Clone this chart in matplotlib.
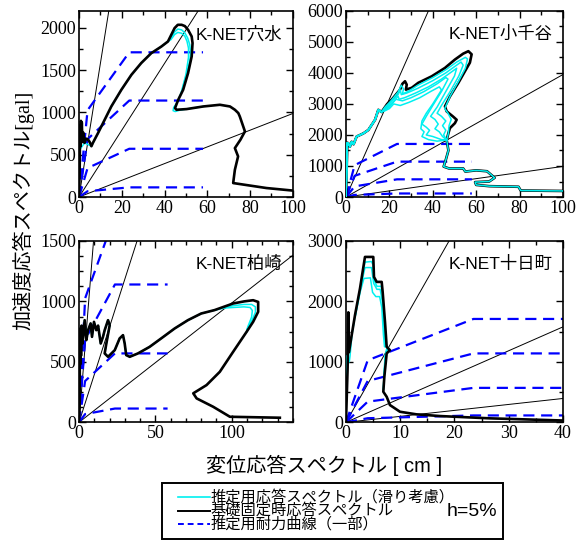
import numpy as np
import matplotlib
matplotlib.use('Agg')
import matplotlib.pyplot as plt
from matplotlib.lines import Line2D
from matplotlib.patches import Rectangle
from matplotlib.ticker import MultipleLocator

SERIF_JP = ['Liberation Serif', 'Noto Sans CJK JP']
SANS_JP = ['Liberation Sans', 'Noto Sans CJK JP']
plt.rcParams['font.family'] = SERIF_JP

# natural periods of the thin reference lines [s]
periods = [0.5, 1.0, 2.0]

# capacity curves (blue dashed), displacement [cm] / acceleration [gal]
cap_d = [0, 4.0, 23.5, 58]
cap_a = [[0, 68, 114, 114],
         [0, 342, 570, 570],
         [0, 684, 1140, 1140],
         [0, 1026, 1710, 1710]]

# ---- K-NET穴水
anamizu_bk_d = [0, 0.3, 0.5, 0.7, 0.9, 1.1, 1.3, 1.6, 2.0, 2.6, 3.3, 4.2, 5.0, 5.8, 6.5, 8.9, 12.0, 15.1, 19.8,
                24.5, 29.1, 33.8, 38.5, 41.6, 44.7, 46.2, 48.0, 49.5, 51.0, 52.7, 53.1, 52.7, 51.0, 48.7, 46.4,
                44.9, 45.6, 50.3, 58.1, 65.9, 70.6, 72.9, 74.5, 75.2, 76.8, 77.6, 75.5, 72.9, 74.4, 72.9, 72.1,
                87.7, 100]
anamizu_bk_a = [0, 300, 850, 600, 900, 700, 880, 650, 760, 640, 690, 680, 650, 600, 640, 756, 913, 1070, 1267,
                1444, 1583, 1700, 1778, 1838, 1996, 2035, 2035, 2020, 1976, 1897, 1819, 1661, 1464, 1267, 1149,
                1051, 1031, 1039, 1070, 1090, 1070, 1031, 992, 952, 834, 775, 677, 578, 480, 322, 165,
                106, 76]
anamizu_cy = [
    ([0, 0.1, 0.4, 2.6, 5.8, 8.9, 12.0, 15.1, 19.8, 24.5, 29.1, 33.8, 38.5, 41.6, 43.0, 44.7, 46.2, 48.0, 49.5,
      50.8, 51.8, 52.2, 51.8, 50.3, 48.0, 46.0, 44.3, 44.0, 45.0, 47.0, 50.3, 58.1],
     [0, 280, 560, 640, 600, 756, 913, 1070, 1267, 1444, 1583, 1700, 1778, 1838, 1880, 1950, 1985, 1975, 1940,
      1880, 1800, 1700, 1600, 1450, 1250, 1120, 1060, 1020, 1010, 1025, 1039, 1070]),
    ([38.5, 41.6, 43.0, 44.7, 46.2, 48.0, 49.5, 50.5, 51.2, 51.2, 50.0, 48.0],
     [1778, 1838, 1860, 1920, 1945, 1935, 1900, 1840, 1760, 1650, 1450, 1250]),
]

# ---- K-NET小千谷
ojiya_rise_d = [0, 0.3, 0.5, 0.6, 1.1, 1.8, 2.6, 3.5, 4.9, 6.5, 8.0, 10.3, 11.8, 13.4, 14.9, 16.4]
ojiya_rise_a = [0, 900, 1400, 1750, 1730, 1620, 1780, 1700, 1950, 2000, 2050, 2160, 2320, 2490, 2810, 2740]
ojiya_low_d = [47.2, 46.4, 47.2, 46.0, 45.0, 47.5, 54.0, 55.0, 60.0, 65.0, 68.5, 66.0, 59.5, 60.0, 66.0, 79.5,
               80.5, 100]
ojiya_low_a = [2056, 1840, 1500, 1200, 980, 920, 920, 820, 860, 830, 620, 500, 480, 390, 350, 330, 210, 195]
ojiya_bk_d = [17.0, 19.0, 21.1, 23.0, 24.9, 26.0, 27.2, 28.0, 27.6, 30.3, 33.3, 39.5, 45.6, 50.2, 54.0, 56.4,
              57.9, 57.1, 54.8, 51.8, 47.9, 45.6, 46.4, 49.4, 51.0, 50.2, 47.9]
ojiya_bk_a = [2800, 3000, 3140, 3300, 3460, 3650, 3730, 3620, 3460, 3520, 3680, 3890, 4160, 4430, 4620, 4700,
              4600, 4330, 4050, 3680, 3240, 2920, 2760, 2590, 2490, 2380, 2220]
ojiya_cy = [
    ([18.0, 20.5, 22.5, 24.0, 25.5, 26.5, 26.0, 29.0, 33.0, 40.0, 46.0, 51.0, 55.0, 56.0, 55.0, 52.0, 48.0, 45.5,
      47.0, 48.5, 47.5],
     [2900, 3080, 3250, 3380, 3600, 3480, 3320, 3420, 3600, 3850, 4100, 4350, 4500, 4450, 4150, 3750, 3250, 2850,
      2700, 2500, 2300]),
    ([18.0, 20.0, 22.0, 24.0, 25.0, 25.5, 28.0, 33.0, 40.0, 46.0, 50.0, 53.0, 54.0, 52.0, 48.0, 44.0, 42.0, 44.0,
      46.0, 44.5, 46.0, 45.0, 46.4],
     [2850, 3000, 3150, 3300, 3450, 3300, 3350, 3500, 3750, 4000, 4200, 4350, 4250, 3900, 3400, 2950, 2700, 2600,
      2450, 2300, 2150, 2000, 1840]),
    ([18.0, 20.0, 22.0, 24.0, 24.5, 27.0, 32.0, 38.0, 44.0, 49.0, 51.0, 50.0, 46.0, 42.0, 39.0, 41.0, 42.5, 41.0,
      43.0, 44.5, 46.4],
     [2820, 2950, 3080, 3250, 3150, 3200, 3350, 3550, 3800, 4050, 4150, 3900, 3400, 2900, 2600, 2500, 2350, 2200,
      2100, 1950, 1840]),
    ([18.0, 20.0, 23.0, 26.0, 30.0, 36.0, 42.0, 46.0, 47.0, 44.0, 40.0, 37.0, 35.0, 37.0, 38.5, 37.0, 40.0, 44.0,
      46.4],
     [2800, 2900, 3150, 3100, 3200, 3400, 3650, 3850, 3800, 3400, 2950, 2600, 2350, 2250, 2150, 2000, 1950, 1850,
      1840]),
    ([18.0, 20.0, 22.0, 25.0, 29.0, 34.0, 39.0, 43.0, 44.0, 40.0, 37.0, 35.0, 34.5, 36.0, 35.0, 38.0, 42.0, 46.4],
     [2780, 2850, 3000, 2950, 3050, 3200, 3400, 3550, 3450, 3000, 2700, 2450, 2200, 2100, 1950, 1850, 1800, 1840]),
]

# ---- K-NET柏崎
kashiwazaki_bk_d = [0, 0.5, 0.5, 0.8, 1.0, 1.3, 1.7, 2.2, 2.8, 3.7, 4.8, 5.9, 7.6, 8.5, 9.8, 11.3, 12.5, 14.2,
                    15.7, 16.8, 19.0, 20.1, 17.9, 16.8, 19.0, 23.4, 26.6, 28.8, 29.9, 30.9, 33.2, 38.6, 46.2, 53.8,
                    62.6, 71.3, 80.0, 88.7, 100.9, 108.0, 114.0, 117.3, 117.3, 114.0, 109.7, 100.9, 92.2, 83.5,
                    74.8, 77.0, 87.8, 98.8, 131.5]
kashiwazaki_bk_a = [0, 190, 750, 480, 780, 550, 800, 650, 720, 845, 680, 762, 818, 707, 831, 762, 800, 652, 707,
                    762, 845, 804, 652, 570, 542, 597, 694, 721, 652, 556, 542, 570, 624, 694, 776, 845, 900, 928,
                    983, 1000, 1010, 996, 914, 831, 748, 583, 418, 308, 240, 198, 129, 46, 38]
kashiwazaki_cy_head = ([0, 0.05], [0, 170])
kashiwazaki_cy_tail = [
    ([95.0, 101.0, 108.0, 113.0, 115.5, 115.5, 113.5, 110.0, 109.7],
     [950, 965, 975, 975, 955, 910, 850, 770, 748]),
    ([95.0, 101.0, 108.0, 112.0, 113.5, 113.0, 110.5, 109.7],
     [945, 950, 955, 950, 925, 870, 790, 748]),
]

# ---- K-NET十日町
tokamachi_bk_d = [0, 0.3, 0.43, 0.55, 1.05, 1.66, 2.58, 3.5, 4.74, 5.03, 5.16, 5.66, 6.58, 6.76, 7.19, 7.5, 8.1,
                  7.5, 7.07, 6.88, 7.5, 8.1, 9.95, 13.0, 17.3, 26.5, 40]
tokamachi_bk_a = [0, 900, 1820, 1160, 1442, 1772, 2213, 2736, 2736, 2736, 2405, 2323, 2323, 2157, 1662, 1249,
                  1194, 1140, 753, 506, 423, 286, 175, 132, 104, 66, 30]
tokamachi_cy = [
    ([0, 0.05, 0.6, 0.75, 1.1, 1.7, 2.6, 3.5, 4.7, 5.0, 5.2, 5.7, 6.5, 6.8, 7.1, 7.3, 7.9, 7.4, 7.1, 6.9],
     [0, 1100, 1000, 1100, 1450, 1770, 2200, 2650, 2660, 2600, 2350, 2250, 2250, 2080, 1600, 1300, 1200, 1130,
      800, 550]),
    ([1.7, 2.6, 3.5, 4.7, 5.1, 5.7, 6.3, 6.7, 7.0, 7.2, 7.8, 7.3, 7.0, 6.9],
     [1760, 2190, 2560, 2560, 2300, 2200, 2200, 2000, 1550, 1300, 1220, 1120, 780, 550]),
    ([1.7, 2.6, 3.3, 4.5, 4.9, 5.5, 6.2, 6.6, 6.9, 7.1, 7.6, 7.2, 7.0, 6.9],
     [1750, 2150, 2380, 2390, 2150, 2080, 2080, 1900, 1450, 1250, 1250, 1100, 770, 550]),
]

# cyan curves of 柏崎 follow the black one up to d = 88.7 and split off at the peak
k_split = kashiwazaki_bk_d.index(88.7) + 1
kashiwazaki_cy = [(kashiwazaki_cy_head[0] + kashiwazaki_bk_d[2:k_split] + d,
                   kashiwazaki_cy_head[1] + kashiwazaki_bk_a[2:k_split] + a)
                  for d, a in kashiwazaki_cy_tail]

panels = [
    dict(name='K-NET穴水', rect=[0.136, 0.6365, 0.368, 0.3435], xlim=100, ylim=2200, xt=(20, 10), yt=(500, 250),
         bk=(anamizu_bk_d, anamizu_bk_a), cy=anamizu_cy, black_top=True),
    dict(name='K-NET小千谷', rect=[0.5955, 0.6365, 0.3735, 0.3435], xlim=100, ylim=6000, xt=(20, 10),
         yt=(1000, 500),
         bk=(ojiya_rise_d + ojiya_bk_d + ojiya_low_d, ojiya_rise_a + ojiya_bk_a + ojiya_low_a),
         cy=[(ojiya_rise_d + ojiya_cy[0][0] + ojiya_low_d, ojiya_rise_a + ojiya_cy[0][1] + ojiya_low_a)]
         + [(ojiya_rise_d + d, ojiya_rise_a + a) for d, a in ojiya_cy[1:]],
         black_top=False),
    dict(name='K-NET柏崎', rect=[0.136, 0.2208, 0.368, 0.3346], xlim=140, ylim=1500, xt=(50, 10), yt=(500, 125),
         bk=(kashiwazaki_bk_d, kashiwazaki_bk_a), cy=kashiwazaki_cy, black_top=True),
    dict(name='K-NET十日町', rect=[0.5955, 0.2208, 0.3735, 0.3346], xlim=40, ylim=3000, xt=(10, 5),
         yt=(1000, 500),
         bk=(tokamachi_bk_d, tokamachi_bk_a), cy=tokamachi_cy, black_top=True),
]

fig = plt.figure(figsize=(5.81, 5.42), dpi=100)

for p in panels:
    ax = fig.add_axes(p['rect'])
    for T in periods:
        ax.axline((0, 0), slope=(2 * np.pi / T) ** 2, color='black', lw=0.7, zorder=1)
    for a in cap_a:
        ax.plot(cap_d, a, color='#0000ff', lw=1.6, dashes=(5, 3), zorder=2)
    z_bk = 4 if p['black_top'] else 3
    z_cy = 3 if p['black_top'] else 4
    ax.plot(p['bk'][0], p['bk'][1], color='black', lw=1.9, zorder=z_bk, solid_joinstyle='round')
    for d, a in p['cy']:
        ax.plot(d, a, color='#00f0f0', lw=1.1, zorder=z_cy, solid_joinstyle='round')
    ax.set_xlim(0, p['xlim'])
    ax.set_ylim(0, p['ylim'])
    ax.xaxis.set_major_locator(MultipleLocator(p['xt'][0]))
    ax.xaxis.set_minor_locator(MultipleLocator(p['xt'][1]))
    ax.yaxis.set_major_locator(MultipleLocator(p['yt'][0]))
    ax.yaxis.set_minor_locator(MultipleLocator(p['yt'][1]))
    ax.tick_params(which='both', direction='in', top=True, right=True, width=1.0, labelsize=13, pad=2,
                   labelfontfamily='Liberation Serif')
    ax.tick_params(which='major', length=5)
    ax.tick_params(which='minor', length=3)
    for s in ax.spines.values():
        s.set_linewidth(1.2)
    ax.text(0.95, 0.875, p['name'], transform=ax.transAxes, ha='right', va='center', fontsize=12.5,
            family=SANS_JP, zorder=6)

fig.text(0.040, 0.611, '加速度応答スペクトル[gal]', rotation=90, ha='center', va='center', fontsize=14.5,
         family=SERIF_JP)
fig.text(0.558, 0.142, '変位応答スペクトル [ cm ]', ha='center', va='center', fontsize=14.5, family=SANS_JP)

# legend box
fig.add_artist(Rectangle((0.2788, 0.005), 0.587, 0.104, transform=fig.transFigure, fill=False, lw=1.4,
                         ec='black'))
leg_items = [('推定用応答スペクトル（滑り考慮）', dict(color='#00f0f0', lw=1.2)),
             ('基礎固定時応答スペクトル', dict(color='black', lw=1.4)),
             ('推定用耐力曲線（一部）', dict(color='#0000ff', lw=1.4, dashes=(3, 2)))]
for i, (lab, st) in enumerate(leg_items):
    yy = 0.083 - i * 0.0252
    fig.add_artist(Line2D([0.306, 0.362], [yy, yy], transform=fig.transFigure, **st))
    fig.text(0.362, yy, lab, ha='left', va='center', fontsize=11, family=SANS_JP)
fig.text(0.856, 0.057, 'h=5%', ha='right', va='center', fontsize=14, family=SANS_JP)

fig.savefig('out.png', dpi=100)
